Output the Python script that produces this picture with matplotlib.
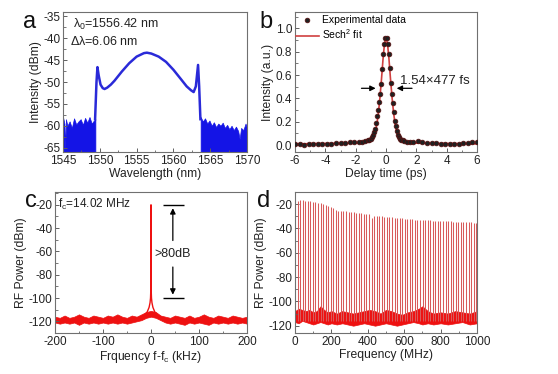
import numpy as np
import matplotlib
matplotlib.use("Agg")
import matplotlib.pyplot as plt
from matplotlib.ticker import MultipleLocator

plt.rcParams['font.family'] = ['Liberation Sans', 'DejaVu Sans']
plt.rcParams['mathtext.fontset'] = 'custom'
plt.rcParams['mathtext.rm'] = 'Liberation Sans'
plt.rcParams['mathtext.it'] = 'Liberation Sans'
plt.rcParams['axes.unicode_minus'] = False

# ---- panel a: optical spectrum ----
wl_main = [1549.36, 1549.55, 1549.68, 1549.85, 1550.1, 1550.4, 1550.65, 1551.0, 1551.5,
           1552.0, 1553.0, 1554.0, 1555.0, 1556.0, 1556.4, 1557.0, 1558.0, 1559.0,
           1560.0, 1561.0, 1561.8, 1562.4, 1562.75, 1563.05, 1563.35, 1563.5, 1563.67]
int_main = [-58.5, -50.0, -46.6, -48.5, -50.6, -51.4, -51.6, -51.3, -50.6,
            -49.7, -47.6, -45.7, -44.2, -43.4, -43.3, -43.5, -44.2, -45.4,
            -47.2, -49.3, -51.0, -51.9, -52.3, -51.0, -46.1, -51.0, -58.5]
wl_noise_l = [1545.0, 1545.2, 1545.3, 1545.4, 1545.6, 1545.9, 1546.2, 1546.5, 1546.8, 1547.1,
              1547.4, 1547.7, 1548.0, 1548.3, 1548.6, 1548.9, 1549.2, 1549.4]
top_noise_l = [-58.0, -59.5, -65.5, -58.5, -60.0, -59.0, -60.5, -58.3, -59.7, -59.0,
               -58.5, -59.8, -58.2, -59.3, -58.0, -59.5, -58.8, -58.5]
wl_noise_r = [1563.7, 1564.0, 1564.3, 1564.6, 1564.9, 1565.2, 1565.5, 1565.8, 1566.1, 1566.4,
              1566.7, 1567.0, 1567.3, 1567.6, 1567.9, 1568.2, 1568.5, 1568.8, 1569.0, 1569.2,
              1569.5, 1569.8, 1570.0]
top_noise_r = [-58.0, -59.0, -58.3, -59.5, -58.8, -60.0, -59.2, -60.3, -59.5, -60.0,
               -59.3, -60.5, -59.8, -60.8, -60.0, -61.0, -60.2, -61.2, -63.0, -60.5,
               -61.0, -59.5, -60.5]

# ---- panel b: autocorrelation ----
t_exp = [-6.0, -5.7, -5.4, -5.1, -4.8, -4.5, -4.2, -3.9, -3.6, -3.3, -3.0, -2.7, -2.4,
         -2.1, -1.8, -1.6, -1.4, -1.2, -1.1, -1.0, -0.9, -0.833, -0.767, -0.7, -0.633,
         -0.567, -0.5, -0.433, -0.367, -0.3, -0.233, -0.167, -0.1, -0.033, 0.033, 0.1,
         0.167, 0.233, 0.3, 0.367, 0.433, 0.5, 0.567, 0.633, 0.7, 0.767, 0.833, 0.9,
         1.0, 1.1, 1.2, 1.4, 1.6, 1.8, 2.1, 2.4, 2.7, 3.0, 3.3, 3.6, 3.9, 4.2, 4.5,
         4.8, 5.1, 5.4, 5.7, 6.0]
i_exp = [0.005, 0.006, 0.004, 0.008, 0.006, 0.01, 0.009, 0.012, 0.01, 0.015, 0.018, 0.02, 0.025,
         0.03, 0.028, 0.03, 0.035, 0.04, 0.045, 0.05, 0.065, 0.085, 0.11, 0.14, 0.19,
         0.25, 0.30, 0.37, 0.44, 0.52, 0.65, 0.78, 0.87, 0.915, 0.915, 0.87,
         0.78, 0.66, 0.53, 0.44, 0.36, 0.28, 0.21, 0.16, 0.12, 0.09, 0.07, 0.055,
         0.045, 0.04, 0.035, 0.03, 0.028, 0.03, 0.035, 0.028, 0.02, 0.018, 0.015, 0.012, 0.01,
         0.008, 0.01, 0.012, 0.015, 0.02, 0.025, 0.03]
t_fit = [-6.0, -4.0, -2.0, -1.5, -1.2, -1.0, -0.9, -0.8, -0.7, -0.6, -0.5, -0.4, -0.3,
         -0.2, -0.1, 0.0, 0.1, 0.2, 0.3, 0.4, 0.5, 0.6, 0.7, 0.8, 0.9, 1.0, 1.2, 1.5,
         2.0, 4.0, 6.0]
i_fit = [0.01, 0.012, 0.016, 0.02, 0.025, 0.04, 0.053, 0.078, 0.115, 0.18, 0.275, 0.405, 0.56,
         0.73, 0.87, 0.92, 0.87, 0.73, 0.56, 0.405, 0.275, 0.18, 0.115, 0.078, 0.053, 0.04,
         0.025, 0.02, 0.016, 0.012, 0.01]

# ---- panel c: RF spectrum, narrow span ----
f_c_band = [-200, -190, -180, -170, -160, -150, -140, -130, -120, -110, -100, -90, -80, -70,
            -60, -50, -40, -30, -20, -10, 0, 10, 20, 30, 40, 50, 60, 70, 80, 90, 100, 110,
            120, 130, 140, 150, 160, 170, 180, 190, 200]
c_upper = [-116, -117, -115, -117, -116, -114, -116, -117, -115, -116, -117, -115, -116, -114,
           -116, -117, -115, -116, -114, -112, -111, -112, -115, -116, -117, -115, -116, -117,
           -115, -117, -116, -114, -116, -117, -115, -116, -117, -115, -116, -117, -116]
c_lower = [-121, -122, -121, -122, -121, -123, -121, -122, -121, -122, -121, -122, -121, -122,
           -121, -122, -121, -120, -119, -117, -116, -117, -119, -121, -122, -121, -122, -123,
           -121, -122, -121, -122, -123, -121, -122, -121, -122, -121, -122, -121, -122]
f_c_peak = [-30, -15, -8, -4, -2, -1, -0.5, -0.2, 0, 0.2, 0.5, 1, 2, 4, 8, 15, 30]
p_c_peak = [-118, -115, -112, -108, -104, -100, -94, -80, -20, -80, -94, -100, -104, -108, -112, -115, -118]

# ---- panel d: RF spectrum, wide span ----
fc_mhz = 14.02
d_peaks = [-17.0, -16.5, -16.8, -17.2, -17.5, -17.8, -18.0, -18.3, -18.8, -19.3,
           -20.0, -20.8, -21.5, -22.3, -23.0, -25.0, -25.3, -25.5, -25.8, -26.0,
           -26.3, -26.5, -26.8, -27.0, -27.3, -27.5, -27.8, -28.0, -28.2, -31.0,
           -29.5, -29.7, -29.9, -30.1, -30.3, -30.5, -30.7, -30.9, -31.1, -31.3,
           -31.5, -31.7, -31.9, -32.1, -32.3, -32.5, -32.7, -32.9, -33.0, -33.1,
           -33.2, -33.3, -33.4, -33.5, -33.6, -33.7, -33.8, -33.9, -34.0, -34.1,
           -34.2, -34.3, -34.4, -34.5, -34.6, -34.7, -34.8, -34.9, -35.0, -35.1, -35.2]
f_d_band = [0, 20, 40, 60, 80, 100, 120, 140, 160, 180, 200, 230, 260, 290, 320, 350, 380,
            410, 440, 470, 500, 530, 560, 590, 620, 650, 680, 700, 730, 760, 800, 840,
            880, 920, 960, 1000]
d_upper = [-108, -106, -107, -108, -107, -109, -108, -104, -107, -109, -108, -110, -108, -109, -110, -109, -108,
           -107, -108, -110, -107, -108, -110, -111, -109, -108, -106, -104, -108, -110, -109, -110,
           -108, -109, -110, -108]
d_lower = [-117, -118, -116, -117, -118, -119, -118, -117, -118, -119, -118, -119, -118, -119, -120, -119, -118,
           -119, -120, -119, -118, -119, -120, -119, -118, -117, -118, -119, -118, -119, -118, -119,
           -118, -117, -119, -118]

W, H = 558, 374
fig = plt.figure(figsize=(W / 100, H / 100), dpi=100)


def add_ax(l, t, r, b):
    return fig.add_axes([l / W, 1 - b / H, (r - l) / W, (b - t) / H])


def style(ax):
    for s in ax.spines.values():
        s.set_color('#707070')
        s.set_linewidth(0.8)
    ax.tick_params(which='both', direction='in', top=False, right=False,
                   labelsize=8.5, color='#606060', labelcolor='#222222', pad=2)
    ax.tick_params(which='major', length=3, width=0.7)
    ax.tick_params(which='minor', length=1.8, width=0.6)


lab_kw = dict(fontsize=8.7, color='#222222', labelpad=1)

# a
ax = add_ax(63, 12, 247, 152)
blue = '#1414e6'
ax.fill_between(wl_noise_l, -70, top_noise_l, color=blue, lw=0.5)
ax.fill_between(wl_noise_r, -70, top_noise_r, color=blue, lw=0.5)
ax.plot(wl_main, int_main, color='#2a2ad8', lw=1.8)
ax.set_xlim(1545, 1570)
ax.set_ylim(-66, -34)
ax.xaxis.set_major_locator(MultipleLocator(5))
ax.xaxis.set_minor_locator(MultipleLocator(2.5))
ax.yaxis.set_major_locator(MultipleLocator(5))
ax.yaxis.set_minor_locator(MultipleLocator(2.5))
style(ax)
ax.set_xlabel('Wavelength (nm)', **lab_kw)
ax.set_ylabel('Intensity (dBm)', **lab_kw)
ax.text(1546.4, -36.9, r'$\lambda_0$=1556.42 nm', fontsize=9, va='center', color='#222222')
ax.text(1545.9, -40.7, r'$\Delta\lambda$=6.06 nm', fontsize=9, va='center', color='#222222')
fig.text(23 / W, 1 - 28 / H, 'a', fontsize=17, color='#111111')

# b
ax = add_ax(295, 12, 477, 152)
ax.plot(t_fit, i_fit, color='#d04040', lw=1.2, zorder=2, label='Sech$^2$ fit')
ax.plot(t_exp, i_exp, 'o', color='#202020', mec='#5a1010', ms=3.4, mew=0.5, zorder=3,
        label='Experimental data')
ax.set_xlim(-6, 6)
ax.set_ylim(-0.06, 1.14)
ax.xaxis.set_major_locator(MultipleLocator(2))
ax.xaxis.set_minor_locator(MultipleLocator(1))
ax.yaxis.set_major_locator(MultipleLocator(0.2))
ax.yaxis.set_minor_locator(MultipleLocator(0.1))
ax.yaxis.set_major_formatter(plt.FormatStrFormatter('%.1f'))
style(ax)
ax.set_xlabel('Delay time (ps)', **lab_kw)
ax.set_ylabel('Intensity (a.u.)', **lab_kw)
h, l = ax.get_legend_handles_labels()
ax.legend(h[::-1], l[::-1], loc='upper left', frameon=False, fontsize=7.5,
          handlelength=2.2, borderaxespad=0.2, labelspacing=0.2, handletextpad=0.3,
          bbox_to_anchor=(-0.03, 1.02))
ax.annotate('', xy=(-0.5, 0.486), xytext=(-1.8, 0.486),
            arrowprops=dict(arrowstyle='-|>', color='black', lw=0.9, mutation_scale=8))
ax.annotate('', xy=(0.52, 0.486), xytext=(1.9, 0.486),
            arrowprops=dict(arrowstyle='-|>', color='black', lw=0.9, mutation_scale=8))
ax.text(0.9, 0.545, '1.54×477 fs', fontsize=9.5, va='center', color='#222222')
fig.text(259 / W, 1 - 28 / H, 'b', fontsize=17, color='#111111')

# c
ax = add_ax(55, 192, 247, 333)
red = '#ee1111'
ax.fill_between(f_c_band, c_lower, c_upper, color=red, lw=0.5)
ax.plot(f_c_peak, p_c_peak, color=red, lw=1.0)
ax.set_xlim(-200, 200)
ax.set_ylim(-130, -9)
ax.xaxis.set_major_locator(MultipleLocator(100))
ax.xaxis.set_minor_locator(MultipleLocator(50))
ax.yaxis.set_major_locator(MultipleLocator(20))
ax.yaxis.set_minor_locator(MultipleLocator(10))
style(ax)
ax.set_xlabel('Frquency f-f$_c$ (kHz)', **lab_kw)
ax.set_ylabel('RF Power (dBm)', **lab_kw)
ax.hlines([-20, -100], 26, 68, color='black', lw=1.0)
ax.annotate('', xy=(45.5, -20.5), xytext=(45.5, -53),
            arrowprops=dict(arrowstyle='-|>', color='black', lw=0.9, mutation_scale=8))
ax.annotate('', xy=(45.5, -99.5), xytext=(45.5, -71),
            arrowprops=dict(arrowstyle='-|>', color='black', lw=0.9, mutation_scale=8))
ax.text(45.5, -62.5, '>80dB', fontsize=9, ha='center', va='center', color='#222222')
ax.text(-193, -20, 'f$_c$=14.02 MHz', fontsize=8.5, va='center', color='#222222')
fig.text(25 / W, 1 - 207 / H, 'c', fontsize=17, color='#111111')

# d
ax = add_ax(295, 192, 477, 333)
f_harm = fc_mhz * np.arange(1, len(d_peaks) + 1)
ax.vlines(f_harm, -116, d_peaks, color='#d85a5a', lw=0.75)
ax.fill_between(f_d_band, d_lower, d_upper, color=red, lw=0.5)
ax.set_xlim(0, 1000)
ax.set_ylim(-126, -10)
ax.xaxis.set_major_locator(MultipleLocator(200))
ax.xaxis.set_minor_locator(MultipleLocator(100))
ax.yaxis.set_major_locator(MultipleLocator(20))
ax.yaxis.set_minor_locator(MultipleLocator(10))
style(ax)
ax.set_xlabel('Frequency (MHz)', **lab_kw)
ax.set_ylabel('RF Power (dBm)', **lab_kw)
fig.text(257 / W, 1 - 207 / H, 'd', fontsize=17, color='#111111')

fig.savefig('out.png', dpi=100)
